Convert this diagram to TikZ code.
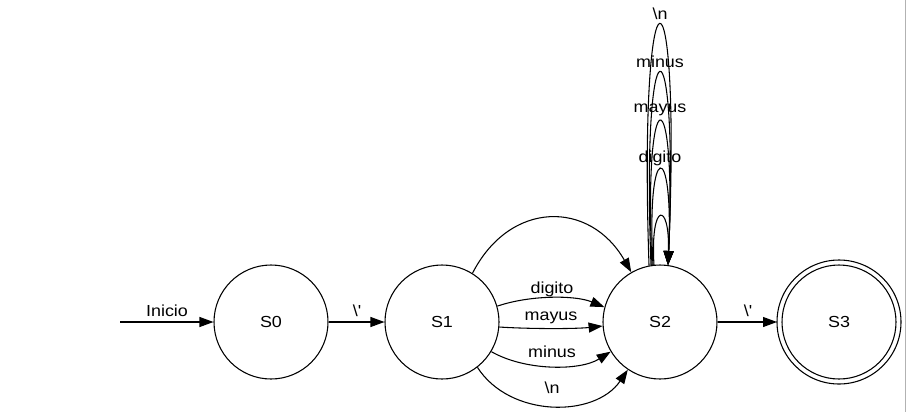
\documentclass[tikz,border=0pt]{standalone}
\usepackage{fontspec}
\setmainfont{Liberation Sans}[FakeStretch=1.12]
\usetikzlibrary{arrows.meta}
\begin{document}
\begin{tikzpicture}[x=0.75pt,y=-0.75pt,
  state/.style={draw,circle,minimum size=85.5pt,inner sep=0pt,font=\fontsize{12}{14}\selectfont,line width=0.8pt},
  edge/.style={-{Triangle[length=10.5pt,width=7.5pt]},line width=0.8pt},
  lab/.style={font=\fontsize{12}{14}\selectfont,inner sep=0pt}]
\useasboundingbox (0,0) rectangle (907,412);
\draw[gray!60,line width=0.8pt] (905.5,0) -- (905.5,412);
\node[state] (S0) at (271,322) {S0};
\node[state] (S1) at (442,322) {S1};
\node[state] (S2) at (660,322) {S2};
\node[state] (S3) at (839,322) {S3};
\draw[line width=0.8pt] (S3.center) circle (62);
\coordinate (start) at (120,322);
\coordinate (S3o) at (777,322);
\draw[edge] (start) -- (S0);
\draw[edge] (S0) -- (S1);
\draw[edge] (S2) -- (S3o);
\node[lab] (l0) at (167,311) {Inicio};
\node[lab] (l1) at (357,311) {\textbackslash\textquotesingle};
\node[lab] (l2) at (748,311) {\textbackslash\textquotesingle};
% S1 -> S2
\draw[edge] (S1.58) .. controls (510,200) and (590,200) .. (S2.120);
\draw[edge] (S1.16) .. controls (530,295) and (575,295) .. (S2.165);
\draw[edge] (S1.-5) .. controls (530,329) and (575,329) .. (S2.184);
\draw[edge] (S1.-31) .. controls (525,371) and (580,371) .. (S2.211);
\draw[edge] (S1.-52) .. controls (510,418) and (595,418) .. (S2.236);
\node[lab] (ld) at (552,289) {digito};
\node[lab] (lm) at (551,318) {mayus};
\node[lab] (ln) at (552,352) {minus};
\node[lab] (lnl) at (552,388) {\textbackslash n};
% loops on S2
\draw[edge] (S2.96) .. controls (650,201) and (670,201) .. (S2.82);
\draw[edge] (S2.97) .. controls (646,138) and (674,138) .. (S2.82);
\draw[edge] (S2.98) .. controls (643,74) and (677,74) .. (S2.82);
\draw[edge] (S2.99.5) .. controls (641,9) and (679,9) .. (S2.82);
\draw[edge] (S2.101) .. controls (638,-55) and (682,-55) .. (S2.82);
\node[lab] (ldg) at (660,158) {digito};
\node[lab] (lmy) at (660,110) {mayus};
\node[lab] (lmi) at (660,62) {minus};
\node[lab] (lnn) at (660,14) {\textbackslash n};
\end{tikzpicture}
\end{document}
